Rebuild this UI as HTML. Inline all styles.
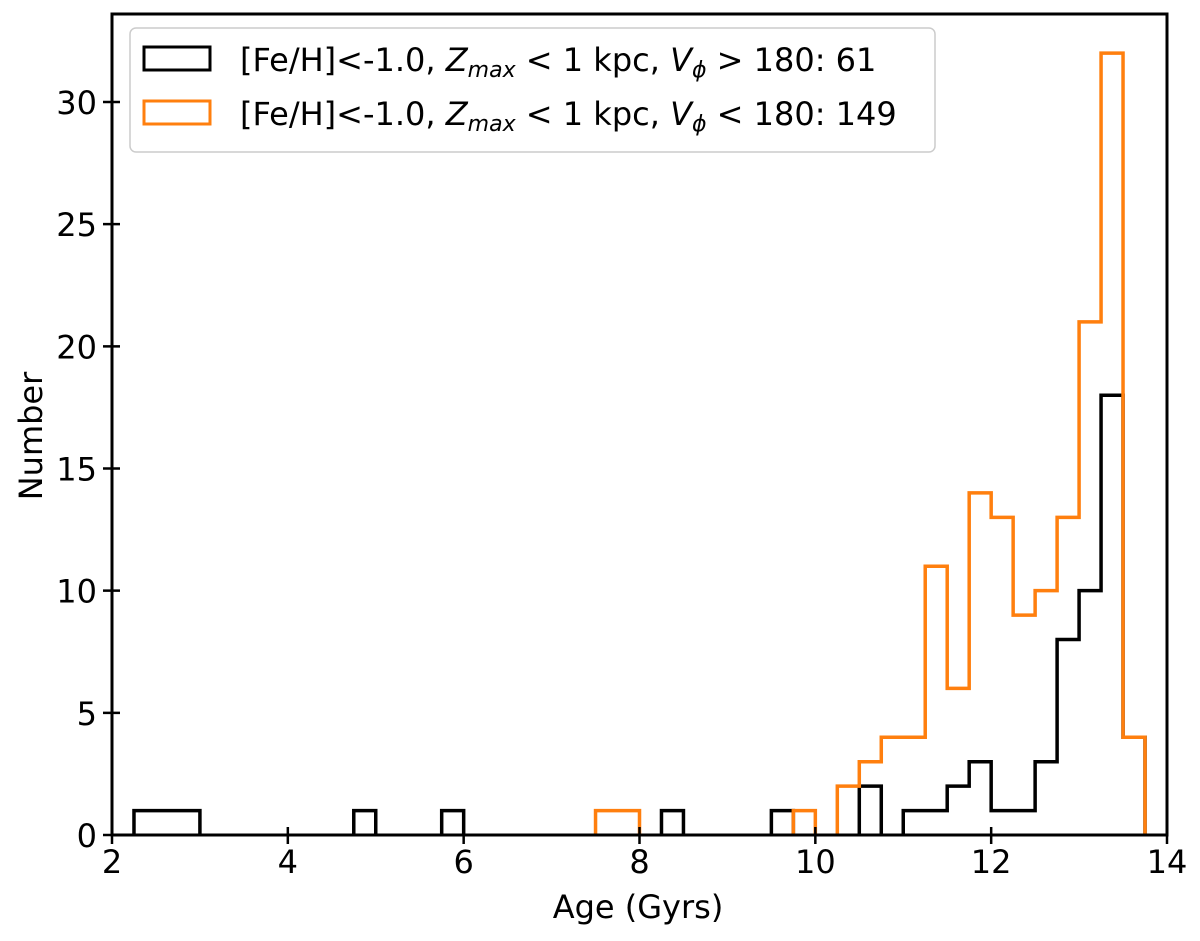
<!DOCTYPE html>
<html><head><meta charset="utf-8"><style>
html,body{margin:0;padding:0;background:#fff;}
svg text{font-family:"DejaVu Sans","Liberation Sans",sans-serif;fill:#000;}
</style></head><body>
<svg id="chart" width="1200" height="936" xmlns="http://www.w3.org/2000/svg">
<g id="marks"></g>
<g id="axes"></g>
<g>
<rect x="130" y="28" width="805" height="124" rx="6" fill="#fff" fill-opacity="0.85" stroke="#ccc" stroke-width="1.5"/>
<rect x="144" y="47" width="66" height="23" fill="none" stroke="#000" stroke-width="3"/>
<text x="240" y="71" font-size="32">[Fe/H]&lt;-1.0, <tspan font-style="italic">Z</tspan><tspan font-style="italic" font-size="22" dy="6">max</tspan><tspan dy="-6"> &lt; 1 kpc, </tspan><tspan font-style="italic">V</tspan><tspan font-style="italic" font-size="22" dy="6">ϕ</tspan><tspan dy="-6"> &gt; 180: 61</tspan></text>
<rect x="144" y="101" width="66" height="23" fill="none" stroke="#ff7f0e" stroke-width="3"/>
<text x="240" y="125" font-size="32">[Fe/H]&lt;-1.0, <tspan font-style="italic">Z</tspan><tspan font-style="italic" font-size="22" dy="6">max</tspan><tspan dy="-6"> &lt; 1 kpc, </tspan><tspan font-style="italic">V</tspan><tspan font-style="italic" font-size="22" dy="6">ϕ</tspan><tspan dy="-6"> &lt; 180: 149</tspan></text>
</g>
</svg>
<script>
const blackBins = [2.25,2.5,2.75,4.75,5.75,8.25,9.5,10.5,11.0,11.25,11.5,11.75,12.0,12.25,12.5,12.75,13.0,13.25,13.5];
const blackCounts = [1,1,1,1,1,1,1,2,1,1,2,3,1,1,3,8,10,18,4];
const orangeBins = [7.5,7.75,9.75,10.25,10.5,10.75,11.0,11.25,11.5,11.75,12.0,12.25,12.5,12.75,13.0,13.25,13.5];
const orangeCounts = [1,1,1,2,3,4,4,11,6,14,13,9,10,13,21,32,4];
const binWidth = 0.25;
const xTicks = [2,4,6,8,10,12,14];
const yTicks = [0,5,10,15,20,25,30];

const L=112,R=1167,T=14,B=835;
const xs = v => L + (v-2)/(14-2)*(R-L);
const ys = v => B - v/30*(B-102);
const NS="http://www.w3.org/2000/svg";
function mk(tag, attrs, parent){const e=document.createElementNS(NS,tag);for(const k in attrs)e.setAttribute(k,attrs[k]);parent.appendChild(e);return e;}

function stepPath(bins,counts){
  let d="";let prevEnd=null;
  for(let i=0;i<bins.length;i++){
    const s=bins[i],e=s+binWidth,c=counts[i];
    if(prevEnd===null||Math.abs(prevEnd-s)>1e-6){
      if(prevEnd!==null) d+=`L${xs(prevEnd)},${ys(0)} `;
      d+=`M${xs(s)},${ys(0)} `;
    }
    d+=`L${xs(s)},${ys(c)} L${xs(e)},${ys(c)} `;
    prevEnd=e;
  }
  d+=`L${xs(prevEnd)},${ys(0)}`;
  return d;
}
const marks=document.getElementById('marks');
const pb=mk('path',{d:stepPath(blackBins,blackCounts),fill:'none',stroke:'#000','stroke-width':3.5},marks);


const po=mk('path',{d:stepPath(orangeBins,orangeCounts),fill:'none',stroke:'#ff7f0e','stroke-width':3.5},marks);



const ax=document.getElementById('axes');
const fr=mk('rect',{x:L,y:T,width:R-L,height:B-T,fill:'none',stroke:'#000','stroke-width':3},ax);


xTicks.forEach(t=>{
  const x=xs(t);
  const ln=mk('line',{x1:x,x2:x,y1:B-8,y2:B+9,stroke:'#000','stroke-width':2.5},ax);
  
  
  const tx=mk('text',{x:x,y:B+38,'font-size':32,'text-anchor':'middle'},ax);tx.textContent=t;
  
  
});
yTicks.forEach(t=>{
  const y=ys(t);
  const ln=mk('line',{x1:L-9,x2:L+8,y1:y,y2:y,stroke:'#000','stroke-width':2.5},ax);
  
  
  const tx=mk('text',{x:L-15,y:y+12,'font-size':32,'text-anchor':'end'},ax);tx.textContent=t;
  
  
});
const xl=mk('text',{x:638,y:918,'font-size':32,'text-anchor':'middle'},ax);xl.textContent='Age (Gyrs)';


const yl=mk('text',{x:0,y:0,'font-size':32,'text-anchor':'middle',transform:`translate(42,436) rotate(-90)`},ax);yl.textContent='Number';


</script>
</body></html>
